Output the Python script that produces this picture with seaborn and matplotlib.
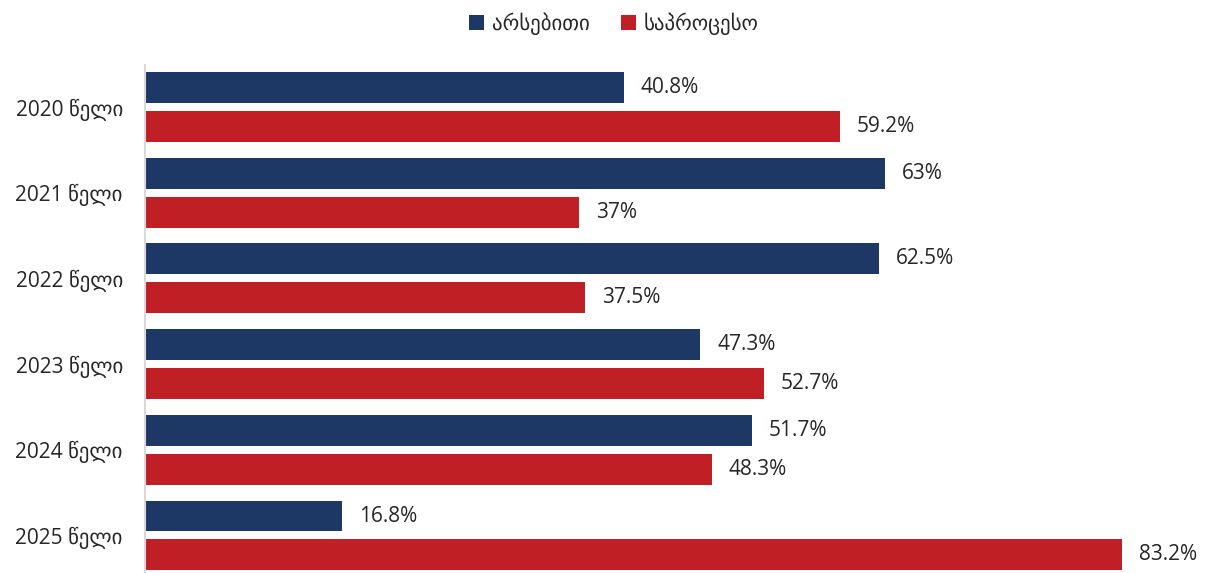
import pandas as pd
import seaborn as sns
import matplotlib.pyplot as plt

# data
years = ['2020 წელი', '2021 წელი', '2022 წელი', '2023 წელი', '2024 წელი', '2025 წელი']
series = ['არსებითი', 'საპროცესო']
arsebiti = [40.8, 63, 62.5, 47.3, 51.7, 16.8]
saprocieso = [59.2, 37, 37.5, 52.7, 48.3, 83.2]

df = pd.DataFrame({
    'year': years * 2,
    'type': [series[0]] * len(years) + [series[1]] * len(years),
    'share': arsebiti + saprocieso,
})

sns.set_theme(style="white")
plt.rcParams['font.family'] = ['Open Sans', 'DejaVu Sans']

navy = "#1d3864"
red = "#c01f26"

fig = plt.figure(figsize=(12.09, 5.73), dpi=100)
ax = fig.add_axes([145 / 1209, 1 - 572 / 573, (1209 - 145) / 1209, (572 - 65) / 573])

sns.barplot(ax=ax, data=df, x='share', y='year', hue='type', orient='h',
            palette=[navy, red], saturation=1, width=0.909, gap=0.205, linewidth=0)

for cont in ax.containers:
    ax.bar_label(cont, labels=[f'{v:g}%' for v in cont.datavalues],
                 padding=12, fontsize=15, color='#262626')

ax.set_xlim(0, (1209 - 145) / ((1122 - 145) / 83.2))
ax.set_ylim(5.426, -0.49)
ax.set_xlabel('')
ax.set_ylabel('')
ax.set_xticks([])
ax.tick_params(axis='y', length=0, pad=16, labelsize=15, labelcolor='#262626')
for side in ['top', 'right', 'bottom']:
    ax.spines[side].set_visible(False)
ax.spines['left'].set_color('#d9d9d9')
ax.spines['left'].set_linewidth(1.5)

leg = ax.legend(loc='upper center', bbox_to_anchor=(614 / 1209, 1.0), bbox_transform=fig.transFigure,
                ncol=2, frameon=False, fontsize=15, handlelength=0.7, handleheight=0.7,
                handletextpad=0.4, columnspacing=1.5, borderaxespad=0.2)
for t in leg.get_texts():
    t.set_color('#262626')

fig.savefig('out.png', dpi=100)
